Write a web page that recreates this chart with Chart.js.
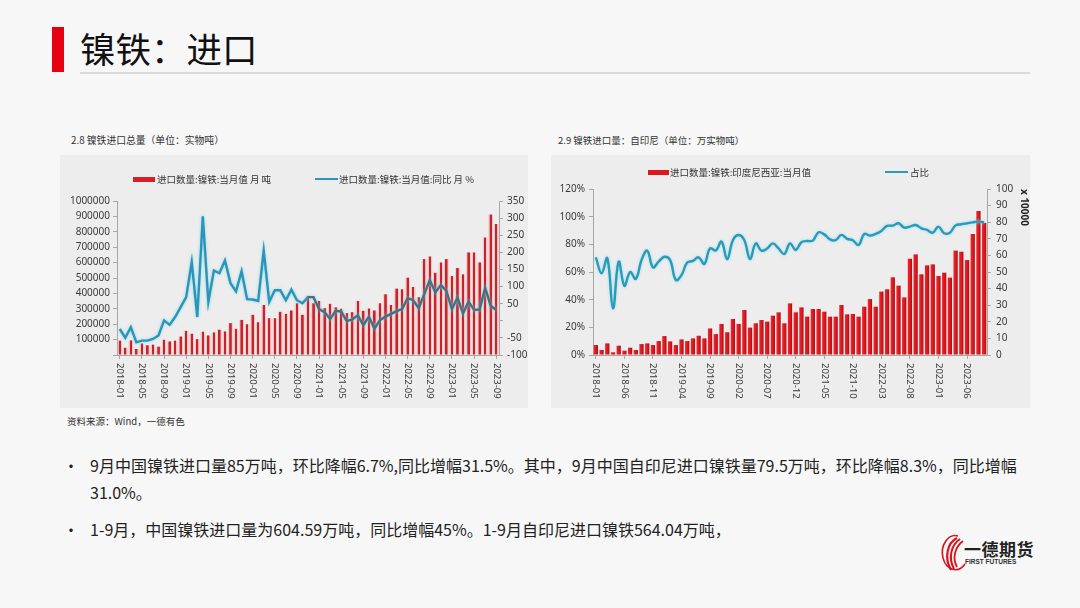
<!DOCTYPE html>
<html><head><meta charset="utf-8">
<script src="https://cdn.jsdelivr.net/npm/chart.js@4.4.0/dist/chart.umd.min.js"></script>
<style>
body{margin:0;width:1080px;height:608px;background:#f7f7f7;position:relative;overflow:hidden;font-family:"Noto Sans CJK SC","Noto Sans",sans-serif;color:#222;}
.abs{position:absolute;}
.cap{font-size:9.5px;color:#333;white-space:nowrap;line-height:12px;}
.box{background:#ededed;}
.leg{font-size:9.5px;color:#333;white-space:nowrap;line-height:12px;}
.sw{position:absolute;}
.bul{font-size:16px;line-height:27px;white-space:nowrap;color:#222;}
</style></head>
<body>
<div class="abs" style="left:52px;top:27px;width:12px;height:45px;background:#e50012;"></div>
<div class="abs" style="left:80px;top:25px;font-size:35.5px;line-height:45px;color:#111;">镍铁：进口</div>
<div class="abs" style="left:80px;top:72px;width:950px;height:2px;background:#dadada;"></div>

<div class="abs cap" style="left:71px;top:134px;font-size:9.8px;">2.8 镍铁进口总量（单位：实物吨）</div>
<div class="abs box" style="left:60px;top:155px;width:468px;height:253px;"><canvas id="c1"></canvas></div>
<div class="abs sw" style="left:133px;top:177px;width:22px;height:5px;background:#d81e26;"></div>
<div class="abs leg" style="left:157px;top:173px;">进口数量:镍铁:当月值 月 吨</div>
<div class="abs sw" style="left:315px;top:178px;width:23px;height:2px;background:#2a97b8;"></div>
<div class="abs leg" style="left:339px;top:173px;">进口数量:镍铁:当月值:同比 月 %</div>
<div class="abs cap" style="left:67px;top:415px;">资料来源：Wind，一德有色</div>

<div class="abs cap" style="left:558px;top:134px;">2.9 镍铁进口量：自印尼（单位：万实物吨）</div>
<div class="abs box" style="left:551px;top:155px;width:479px;height:253px;"><canvas id="c2"></canvas></div>
<div class="abs sw" style="left:648px;top:170px;width:21px;height:5px;background:#e0161c;"></div>
<div class="abs leg" style="left:670px;top:166px;">进口数量:镍铁:印度尼西亚:当月值</div>
<div class="abs sw" style="left:885px;top:171px;width:23px;height:2px;background:#2a9bb8;"></div>
<div class="abs leg" style="left:910px;top:166px;">占比</div>

<div class="abs bul" style="left:63px;top:452px;">•</div>
<div class="abs bul" style="left:90px;top:452px;">9月中国镍铁进口量85万吨，环比降幅6.7%,同比增幅31.5%。其中，9月中国自印尼进口镍铁量79.5万吨，环比降幅8.3%，同比增幅<br>31.0%。</div>
<div class="abs bul" style="left:63px;top:516px;">•</div>
<div class="abs bul" style="left:90px;top:516px;">1-9月，中国镍铁进口量为604.59万吨，同比增幅45%。1-9月自印尼进口镍铁564.04万吨，</div>

<svg class="abs" style="left:938px;top:533px" width="30" height="40" viewBox="0 0 30 40">
<path d="M20 3 A13 17 0 1 0 27 31" fill="none" stroke="#d7141b" stroke-width="1.6"/>
<path d="M19 5 C9 10 6 25 13 37" stroke="#d7141b" stroke-width="2.2" fill="none"/>
<path d="M22 6 C13 12 10 25 16 36" stroke="#d7141b" stroke-width="2" fill="none"/>
<path d="M25 8 C17 14 14 25 19 34" stroke="#d7141b" stroke-width="1.8" fill="none"/>
</svg>
<div class="abs" style="left:964px;top:538px;font-size:17px;font-weight:700;line-height:22px;color:#222;letter-spacing:0.5px;">一德期货</div>
<div class="abs" style="left:965px;top:558px;font-size:6.5px;font-weight:700;line-height:8px;color:#333;font-family:'Liberation Sans',sans-serif;">FIRST FUTURES</div>

<script>
const monthLabels = [
 '2018-01','2018-02','2018-03','2018-04','2018-05','2018-06','2018-07','2018-08','2018-09','2018-10','2018-11','2018-12',
 '2019-01','2019-02','2019-03','2019-04','2019-05','2019-06','2019-07','2019-08','2019-09','2019-10','2019-11','2019-12',
 '2020-01','2020-02','2020-03','2020-04','2020-05','2020-06','2020-07','2020-08','2020-09','2020-10','2020-11','2020-12',
 '2021-01','2021-02','2021-03','2021-04','2021-05','2021-06','2021-07','2021-08','2021-09','2021-10','2021-11','2021-12',
 '2022-01','2022-02','2022-03','2022-04','2022-05','2022-06','2022-07','2022-08','2022-09','2022-10','2022-11','2022-12',
 '2023-01','2023-02','2023-03','2023-04','2023-05','2023-06','2023-07','2023-08','2023-09'
];
// 2.8 total import, tonnes
const totalImport = [
 93000,47000,95000,39000,75000,63000,67000,54000,99000,88000,93000,120000,
 157000,138000,103000,151000,127000,147000,164000,153000,207000,170000,228000,200000,
 261000,213000,325000,239000,239000,280000,267000,289000,336000,261000,384000,336000,
 351000,304000,332000,310000,300000,272000,278000,351000,287000,302000,289000,336000,
 394000,325000,431000,427000,502000,442000,375000,623000,640000,534000,601000,623000,
 513000,565000,524000,666000,666000,601000,763000,912000,850000
];
// 2.8 YoY %
const totalYoY = [
 -24,-50,-19,-63,-58,-58,-53,-43,1,-12,11,40,
 69,172,11,305,55,147,139,176,110,86,145,63,
 62,58,205,55,89,89,60,91,60,51,69,69,
 34,25,5,29,27,-1,4,16,-13,12,-23,2,
 12,20,28,34,66,60,37,78,119,83,105,87,
 34,68,21,56,32,33,96,44,31.5
];
// 2.9 import from Indonesia, 10k tonnes
const indoImport = [
 6.0,3.0,7.0,1.6,5.6,2.6,4.4,3.0,6.6,7.0,6.0,8.4,
 11.4,8.2,6.0,9.4,8.4,10.0,11.6,10.0,16.0,12.6,18.7,13.7,
 21.7,18.7,27.1,16.5,19.1,21.1,20.1,23.7,25.7,19.1,31.1,25.7,
 28.7,23.1,27.7,27.7,26.1,23.1,23.1,30.1,24.5,24.7,23.1,29.1,
 33.7,29.1,38.2,39.6,46.8,41.8,34.7,58.0,60.6,48.6,54.0,54.6,
 47.6,49.6,46.6,62.9,62.2,57.2,72.9,86.7,79.5
];
// 2.9 share %
const indoShare = [
 70.6,59,70,33.7,67.5,50,60,55,68.7,75.4,63.4,67.5,
 71,68.7,54.2,57.8,66.8,68,70.6,65.8,77.1,75.5,82,69.2,
 83,86.8,83,69.4,80.7,75.4,77,80.7,77,73,80.7,75.9,
 81.5,82.4,82.7,88.7,87.2,83.6,83,86.8,84,83,79.5,87.5,
 86.3,87.5,89.7,93.3,93.5,95.2,92.1,92.8,94,91.6,90.4,88.4,
 92.8,88,88.4,93.7,94.5,95.2,95.9,96.4,95.9
];
const leftXTickLabels = ['2018-01','2018-05','2018-09','2019-01','2019-05','2019-09','2020-01','2020-05','2020-09','2021-01','2021-05','2021-09','2022-01','2022-05','2022-09','2023-01','2023-05','2023-09'];
const rightXTickLabels = ['2018-01','2018-06','2018-11','2019-04','2019-09','2020-02','2020-07','2020-12','2021-05','2021-10','2022-03','2022-08','2023-01','2023-06'];

const TICK_FONT = {family:'"Noto Sans","Noto Sans CJK SC",sans-serif', size:10};
const TICK_COLOR = '#3a3a3a';
const AXIS_COLOR = '#a6a6a6';

const downLabels = {
  id:'downLabels',
  afterDraw(chart, args, opts){
    const xs = chart.scales.x, ctx = chart.ctx;
    ctx.save();
    ctx.font = opts.font; ctx.fillStyle = opts.color;
    ctx.textAlign = 'left'; ctx.textBaseline = 'middle';
    opts.labels.forEach(l => {
      const i = chart.data.labels.indexOf(l);
      const x = xs.getPixelForValue(i);
      ctx.save(); ctx.translate(x, xs.top + opts.pad); ctx.rotate(Math.PI/2);
      ctx.fillText(l, 0, 0); ctx.restore();
    });
    ctx.restore();
  }
};
const glow = {
  id:'glow',
  beforeDatasetDraw(chart, args, opts){
    if (chart.data.datasets[args.index].type !== 'line') return;
    const ctx = chart.ctx; ctx.save();
    ctx.shadowColor = opts.color; ctx.shadowBlur = opts.blur;
  },
  afterDatasetDraw(chart, args){
    if (chart.data.datasets[args.index].type !== 'line') return;
    chart.ctx.restore();
  }
};

function barGradient(stops, pct){
  const fallback = stops[Math.floor(stops.length/2)][1];
  return (c) => {
    const xs = c.chart.scales.x;
    if (!xs || c.dataIndex === undefined) return fallback;
    const x = xs.getPixelForValue(c.dataIndex);
    const w = xs.width / c.chart.data.labels.length * pct;
    if (!isFinite(x) || !isFinite(w) || w <= 0) return fallback;
    const g = c.chart.ctx.createLinearGradient(x - w/2, 0, x + w/2, 0);
    stops.forEach(s => g.addColorStop(s[0], s[1]));
    return g;
  };
}

new Chart(document.getElementById('c1'), {
  type:'bar',
  data:{
    labels: monthLabels,
    datasets:[
      {type:'line', label:'进口数量:镍铁:当月值:同比 月 %', data: totalYoY, yAxisID:'y1', order:0,
       borderColor:'#2a95b7', borderWidth:2.4, pointRadius:0, tension:0, fill:false,
       segment:{borderColor: s => s.p0DataIndex >= 34 ? '#44707f' : '#2a95b7'}},
      {type:'bar', label:'进口数量:镍铁:当月值 月 吨', data: totalImport, yAxisID:'y', order:1,
       barPercentage:0.85, categoryPercentage:1,
       backgroundColor: barGradient([[0,'rgba(240,175,175,0.55)'],[0.22,'rgba(240,175,175,0.6)'],[0.3,'#c8232b'],[0.7,'#c8232b'],[0.78,'rgba(240,175,175,0.6)'],[1,'rgba(240,175,175,0.55)']], 0.85)}
    ]
  },
  options:{
    responsive:true, maintainAspectRatio:false, animation:false,
    layout:{padding:{top:46, left:0, right:0, bottom:0}},
    plugins:{legend:{display:false}, tooltip:{enabled:false},
      downLabels:{labels:leftXTickLabels, font:'9.5px "Noto Sans","Noto Sans CJK SC",sans-serif', color:TICK_COLOR, pad:8},
      glow:{color:'rgba(120,210,235,0.85)', blur:3}},
    scales:{
      x:{ticks:{display:false}, offset:true,
         grid:{drawOnChartArea:false, drawTicks:true, tickLength:4, offset:false,
               tickColor: c => leftXTickLabels.includes(monthLabels[c.index]) ? AXIS_COLOR : 'rgba(0,0,0,0)'},
         border:{color:AXIS_COLOR}, afterFit: s => { s.height = 53; }},
      y:{position:'left', min:0, max:1000000,
         ticks:{stepSize:100000, font:TICK_FONT, color:TICK_COLOR, padding:3, callback: v => v === 0 ? '' : String(v)},
         grid:{drawOnChartArea:false, tickLength:4, color:AXIS_COLOR}, border:{color:AXIS_COLOR},
         afterFit: s => { s.width = 57; }},
      y1:{position:'right', min:-100, max:350,
         ticks:{stepSize:50, font:TICK_FONT, color:TICK_COLOR, padding:4, callback: v => v === 0 ? '' : String(v)},
         grid:{drawOnChartArea:false, tickLength:4, color:AXIS_COLOR}, border:{color:AXIS_COLOR},
         afterFit: s => { s.width = 29; }}
    }
  },
  plugins:[downLabels, glow]
});

new Chart(document.getElementById('c2'), {
  type:'bar',
  data:{
    labels: monthLabels,
    datasets:[
      {type:'line', label:'占比', data: indoShare, yAxisID:'y', order:0,
       borderColor:'#2b9ab8', borderWidth:2.4, pointRadius:0, tension:0.4, fill:false},
      {type:'bar', label:'进口数量:镍铁:印度尼西亚:当月值', data: indoImport, yAxisID:'y1', order:1,
       barPercentage:0.75, categoryPercentage:1,
       backgroundColor: barGradient([[0,'#f0292e'],[0.55,'#df161c'],[1,'#a80f17']], 0.75)}
    ]
  },
  options:{
    responsive:true, maintainAspectRatio:false, animation:false,
    layout:{padding:{top:34, left:0, right:0, bottom:0}},
    plugins:{legend:{display:false}, tooltip:{enabled:false},
      downLabels:{labels:rightXTickLabels, font:'9.5px "Noto Sans","Noto Sans CJK SC",sans-serif', color:TICK_COLOR, pad:8},
      glow:{color:'rgba(140,220,240,0.9)', blur:3}},
    scales:{
      x:{ticks:{display:false}, offset:true,
         grid:{drawOnChartArea:false, drawTicks:true, tickLength:4, offset:false,
               tickColor: c => rightXTickLabels.includes(monthLabels[c.index]) ? AXIS_COLOR : 'rgba(0,0,0,0)'},
         border:{color:AXIS_COLOR}, afterFit: s => { s.height = 53; }},
      y:{position:'left', min:0, max:120,
         ticks:{stepSize:20, font:TICK_FONT, color:TICK_COLOR, padding:4, callback: v => v + '%'},
         grid:{drawOnChartArea:false, tickLength:4, color:AXIS_COLOR}, border:{color:AXIS_COLOR},
         afterFit: s => { s.width = 42; }},
      y1:{position:'right', min:0, max:100,
         ticks:{stepSize:10, font:TICK_FONT, color:TICK_COLOR, padding:5},
         grid:{drawOnChartArea:false, tickLength:4, color:AXIS_COLOR}, border:{color:AXIS_COLOR},
         title:{display:true, text:'x 10000', align:'end', color:'#222', padding:0,
                font:{family:'"Noto Sans",sans-serif', size:10, weight:'bold'}},
         afterFit: s => { s.width = 43; }}
    }
  },
  plugins:[downLabels, glow]
});
</script>
</body></html>
